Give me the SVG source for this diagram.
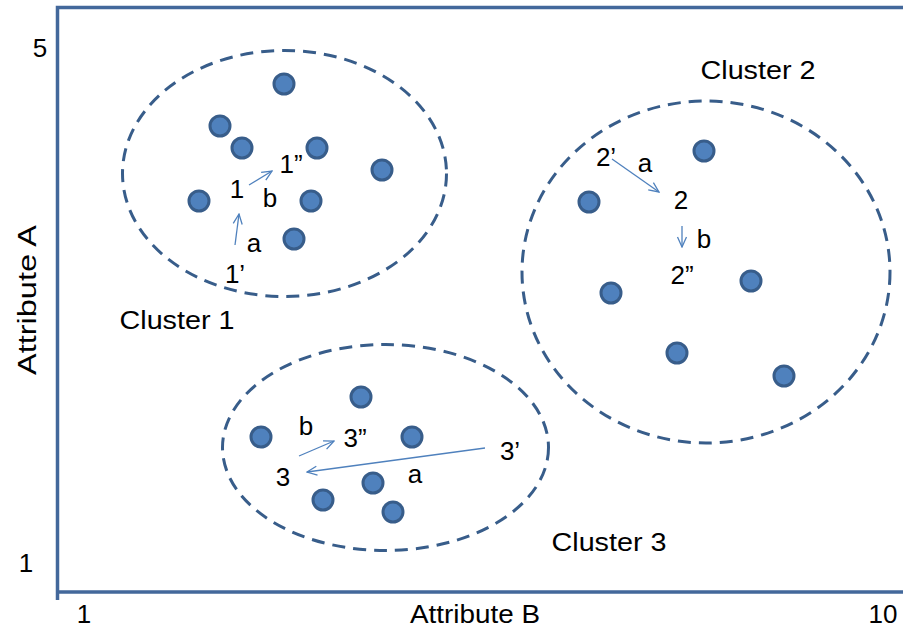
<svg xmlns="http://www.w3.org/2000/svg" width="903" height="631" viewBox="0 0 903 631">
<defs>
<style>
text{font-family:"Liberation Sans",Arial,sans-serif;font-size:26px;fill:#000;text-anchor:middle}
.dot{fill:#4f81bd;stroke:#385d8a;stroke-width:3}
.cl{fill:none;stroke:#385d8a;stroke-width:3;stroke-dasharray:13 8}
.ar{fill:none;stroke:#4f81bd;stroke-width:1.3;marker-end:url(#ah)}
</style>
<marker id="ah" viewBox="0 0 12 12" refX="11" refY="6" markerWidth="12" markerHeight="12" markerUnits="userSpaceOnUse" orient="auto">
<path d="M1,1.5 L11,6 L1,10.5" fill="none" stroke="#4f81bd" stroke-width="1.3"/>
</marker>
</defs>
<rect width="903" height="631" fill="#fff"/>
<g id="frame">
<path d="M57.5,600 L57.5,7.5 L910,7.5 M57.5,592 L910,592" fill="none" stroke="#43689b" stroke-width="3.5"/>
</g>
<g id="axes">
<text x="40" y="57">5</text>
<text x="26" y="572">1</text>
<text x="84" y="623">1</text>
<text x="475" y="623" textLength="130" lengthAdjust="spacingAndGlyphs">Attribute B</text>
<text x="883" y="623">10</text>
<text transform="translate(36,300) rotate(-90)" textLength="150" lengthAdjust="spacingAndGlyphs">Attribute A</text>
</g>
<g id="cluster1">
<ellipse class="cl" cx="284.5" cy="173.5" rx="162" ry="123"/>
<circle class="dot" cx="284" cy="84" r="10"/>
<circle class="dot" cx="220" cy="126" r="10"/>
<circle class="dot" cx="242" cy="148" r="10"/>
<circle class="dot" cx="317" cy="148" r="10"/>
<circle class="dot" cx="382" cy="170" r="10"/>
<circle class="dot" cx="199" cy="201" r="10"/>
<circle class="dot" cx="311" cy="201" r="10"/>
<circle class="dot" cx="294" cy="239" r="10"/>
<text x="177" y="329" textLength="115" lengthAdjust="spacingAndGlyphs">Cluster 1</text>
<text x="237" y="198">1</text>
<text x="291" y="173">1”</text>
<text x="235" y="283">1’</text>
<text x="254" y="252">a</text>
<text x="270" y="207">b</text>
</g>
<g id="cluster2">
<ellipse class="cl" cx="706" cy="272" rx="184" ry="171"/>
<circle class="dot" cx="704" cy="151" r="10"/>
<circle class="dot" cx="589" cy="202" r="10"/>
<circle class="dot" cx="611" cy="293" r="10"/>
<circle class="dot" cx="751" cy="281" r="10"/>
<circle class="dot" cx="677" cy="353" r="10"/>
<circle class="dot" cx="784" cy="376" r="10"/>
<text x="758" y="79" textLength="115" lengthAdjust="spacingAndGlyphs">Cluster 2</text>
<text x="606" y="166">2’</text>
<text x="645" y="172">a</text>
<text x="681" y="209">2</text>
<text x="704" y="248">b</text>
<text x="682" y="284">2”</text>
</g>
<g id="cluster3">
<ellipse class="cl" cx="385.5" cy="447.5" rx="163" ry="103"/>
<circle class="dot" cx="361" cy="397" r="10"/>
<circle class="dot" cx="261" cy="437" r="10"/>
<circle class="dot" cx="412" cy="437" r="10"/>
<circle class="dot" cx="373" cy="483" r="10"/>
<circle class="dot" cx="323" cy="500" r="10"/>
<circle class="dot" cx="393" cy="512" r="10"/>
<text x="609" y="551" textLength="115" lengthAdjust="spacingAndGlyphs">Cluster 3</text>
<text x="306" y="435">b</text>
<text x="355" y="447">3”</text>
<text x="283" y="486">3</text>
<text x="415" y="483">a</text>
<text x="510" y="460">3’</text>
</g>
<g id="connectors">
<line class="ar" x1="235" y1="245" x2="239" y2="214"/>
<line class="ar" x1="249" y1="185" x2="272" y2="171"/>
<line class="ar" x1="612" y1="159" x2="659" y2="192"/>
<line class="ar" x1="682" y1="226" x2="682" y2="247"/>
<line class="ar" x1="299" y1="456" x2="334" y2="441"/>
<line class="ar" x1="485" y1="448" x2="307" y2="472"/>
</g>
</svg>
